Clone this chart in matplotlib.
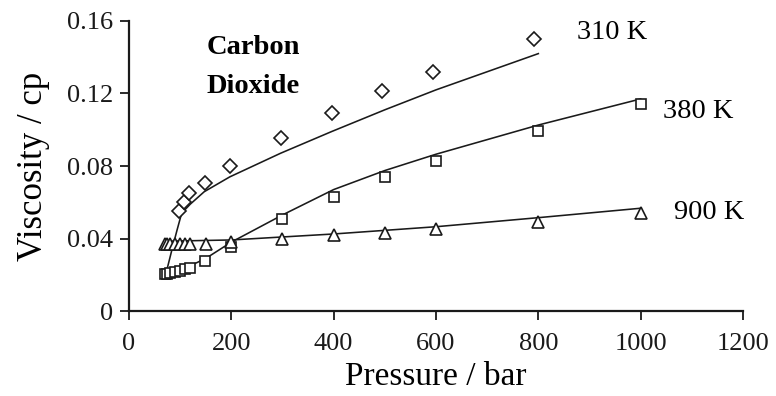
import matplotlib
matplotlib.use("Agg")
import matplotlib.pyplot as plt

plt.rcParams['font.family'] = ['Liberation Serif', 'DejaVu Serif']

# Experimental points
p310 = [98, 108, 118, 148, 198, 297, 396, 495, 594, 792]
v310 = [0.0553, 0.0603, 0.065, 0.0704, 0.080, 0.0956, 0.1094, 0.1215, 0.132, 0.150]

p380 = [70, 75, 80, 90, 100, 110, 120, 148, 200, 300, 400, 500, 600, 800, 1000]
v380 = [0.0205, 0.0205, 0.021, 0.0215, 0.022, 0.023, 0.024, 0.0276, 0.0355, 0.051, 0.063, 0.074, 0.083, 0.0993, 0.114]

p900 = [70, 75, 80, 90, 100, 110, 120, 150, 200, 300, 400, 500, 600, 800, 1000]
v900 = [0.037, 0.037, 0.037, 0.037, 0.037, 0.037, 0.037, 0.037, 0.038, 0.0396, 0.0419, 0.0429, 0.045, 0.0493, 0.0539]

# Model curves
lp310 = [74, 85, 94, 103, 120, 147, 197, 296, 396, 500, 600, 700, 800]
lv310 = [0.0226, 0.035, 0.0447, 0.054, 0.059, 0.0658, 0.074, 0.087, 0.099, 0.111, 0.122, 0.132, 0.142]

lp380 = [70, 90, 120, 150, 200, 300, 400, 500, 600, 800, 1000]
lv380 = [0.0210, 0.0225, 0.0250, 0.0290, 0.0380, 0.0530, 0.0670, 0.0775, 0.0865, 0.1026, 0.117]

lp900 = [70, 200, 400, 600, 800, 1000]
lv900 = [0.0385, 0.0392, 0.0425, 0.0465, 0.0515, 0.0567]

fig = plt.figure(figsize=(7.76, 3.96), dpi=100)
ax = fig.add_axes([0.1662, 0.2146, 0.7913, 0.7324])

ink = '#1a1a1a'
ax.plot(lp310, lv310, color=ink, lw=1.15)
ax.plot(lp380, lv380, color=ink, lw=1.15)
ax.plot(lp900, lv900, color=ink, lw=1.15)

ax.plot(p310, v310, linestyle='none', marker='D', ms=7, mfc='white', mec=ink, mew=1.2)
ax.plot(p380, v380, linestyle='none', marker='s', ms=7.8, mfc='white', mec=ink, mew=1.2)
ax.plot(p900, v900, linestyle='none', marker='^', ms=8.5, mfc='white', mec=ink, mew=1.2)

ax.set_xlim(0, 1200)
ax.set_ylim(0, 0.16)
ax.set_xticks([0, 200, 400, 600, 800, 1000, 1200])
ax.set_yticks([0, 0.04, 0.08, 0.12, 0.16])
ax.set_yticklabels(['0', '0.04', '0.08', '0.12', '0.16'])

for s in ['top', 'right']:
    ax.spines[s].set_visible(False)
for s in ['left', 'bottom']:
    ax.spines[s].set_linewidth(1.6)
    ax.spines[s].set_color(ink)
ax.tick_params(direction='out', length=6.5, width=1.3, labelsize=19, colors=ink)
ax.tick_params(axis='x', pad=9)
ax.tick_params(axis='y', pad=5)

ax.set_xlabel('Pressure / bar', fontsize=24, labelpad=5)
ax.set_ylabel('Viscosity / cp', fontsize=25, labelpad=12)

ax.text(243, 0.1455, 'Carbon', fontsize=20.5, fontweight='bold', ha='center', va='center')
ax.text(243, 0.124, 'Dioxide', fontsize=20.5, fontweight='bold', ha='center', va='center')

ax.text(945, 0.1535, '310 K', fontsize=20.5, ha='center', va='center')
ax.text(1112, 0.1100, '380 K', fontsize=20.5, ha='center', va='center')
ax.text(1134, 0.0545, '900 K', fontsize=20.5, ha='center', va='center')

fig.savefig('out.png', dpi=100)
